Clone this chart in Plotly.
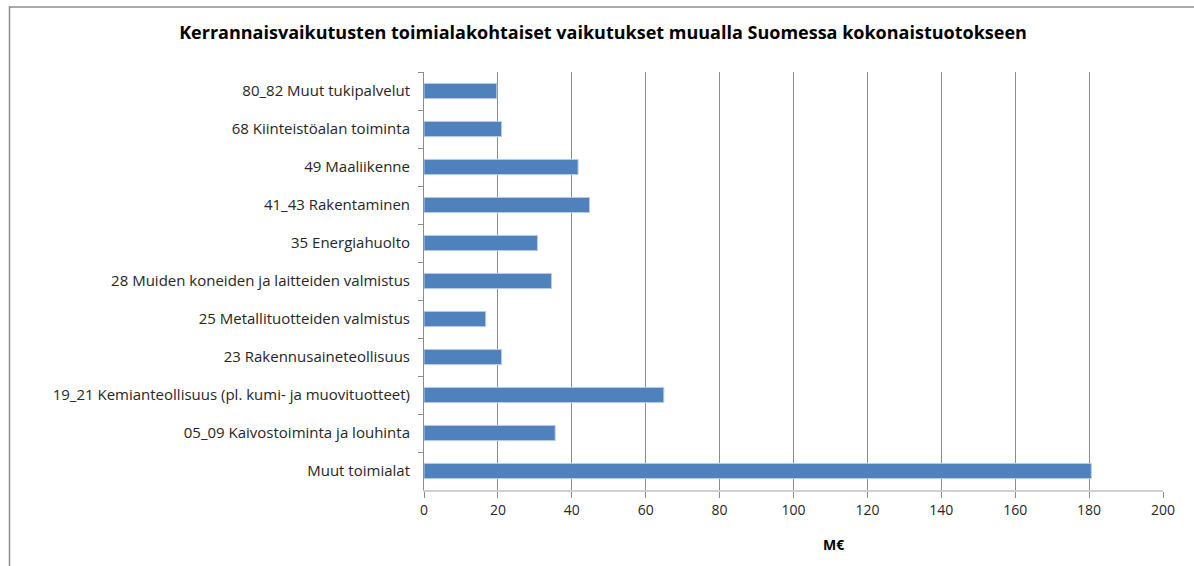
import plotly.graph_objects as go

# toimialat ylhäältä alas
categories = [
    "80_82 Muut tukipalvelut",
    "68 Kiinteistöalan toiminta",
    "49 Maaliikenne",
    "41_43 Rakentaminen",
    "35 Energiahuolto",
    "28 Muiden koneiden ja laitteiden valmistus",
    "25 Metallituotteiden valmistus",
    "23 Rakennusaineteollisuus",
    "19_21 Kemianteollisuus (pl. kumi- ja muovituotteet)",
    "05_09 Kaivostoiminta ja louhinta",
    "Muut toimialat",
]
values = [19.7, 21.0, 41.7, 44.8, 30.7, 34.5, 16.7, 21.0, 64.9, 35.5, 180.6]
x_ticks = [0, 20, 40, 60, 80, 100, 120, 140, 160, 180, 200]

W, H = 1194, 566
L, R, T, B = 424, 31, 72, 76
pw, ph = W - L - R, H - T - B

fig = go.Figure()
fig.add_trace(go.Bar(
    y=categories,
    x=values,
    orientation="h",
    marker=dict(color="#4F81BD", line=dict(color="#B9CDE5", width=1)),
    width=0.4,
    hoverinfo="x+y",
))

fig.update_layout(
    width=W, height=H,
    margin=dict(l=L, r=R, t=T, b=B),
    paper_bgcolor="white",
    plot_bgcolor="white",
    font=dict(family="Open Sans", size=15, color="#262626"),
    showlegend=False,
    title=dict(
        text="<b>Kerrannaisvaikutusten toimialakohtaiset vaikutukset muualla Suomessa kokonaistuotokseen</b>",
        x=603 / W, xanchor="center", y=1 - 33 / H, yanchor="middle",
        font=dict(family="Open Sans", size=18, color="black"),
    ),
    xaxis=dict(
        range=[0, 200],
        tickvals=x_ticks,
        showgrid=True, gridcolor="#8C8C8C", gridwidth=1,
        zeroline=False,
        showline=True, linecolor="#D0D0D0", linewidth=2,
        ticks="outside", ticklen=6, tickcolor="#8C8C8C",
        tickfont=dict(size=14, color="#262626"),
    ),
    yaxis=dict(
        autorange="reversed",
        showgrid=False,
        showline=True, linecolor="#8C8C8C", linewidth=1,
        ticks="outside", ticklen=5, tickcolor="#8C8C8C",
        tickson="boundaries",
        ticklabelstandoff=10,
        tickfont=dict(size=15, color="#262626"),
    ),
    annotations=[dict(
        text="<b>M€</b>", x=(833 - L) / pw, xref="paper",
        y=-(544 - (H - B)) / ph, yref="paper",
        xanchor="center", yanchor="middle", showarrow=False,
        font=dict(size=14, color="black"),
    )],
    shapes=[dict(
        type="rect", xref="paper", yref="paper",
        x0=(9.5 - L) / pw, x1=(W + 5 - L) / pw,
        y0=-(H + 5 - (H - B)) / ph, y1=1 + (T - 7) / ph,
        line=dict(color="#8C8C8C", width=1.5), fillcolor="rgba(0,0,0,0)",
        layer="above",
    )],
)

fig.write_html("out.html", config={"displayModeBar": False},
               post_script="document.body.style.margin='0';")
